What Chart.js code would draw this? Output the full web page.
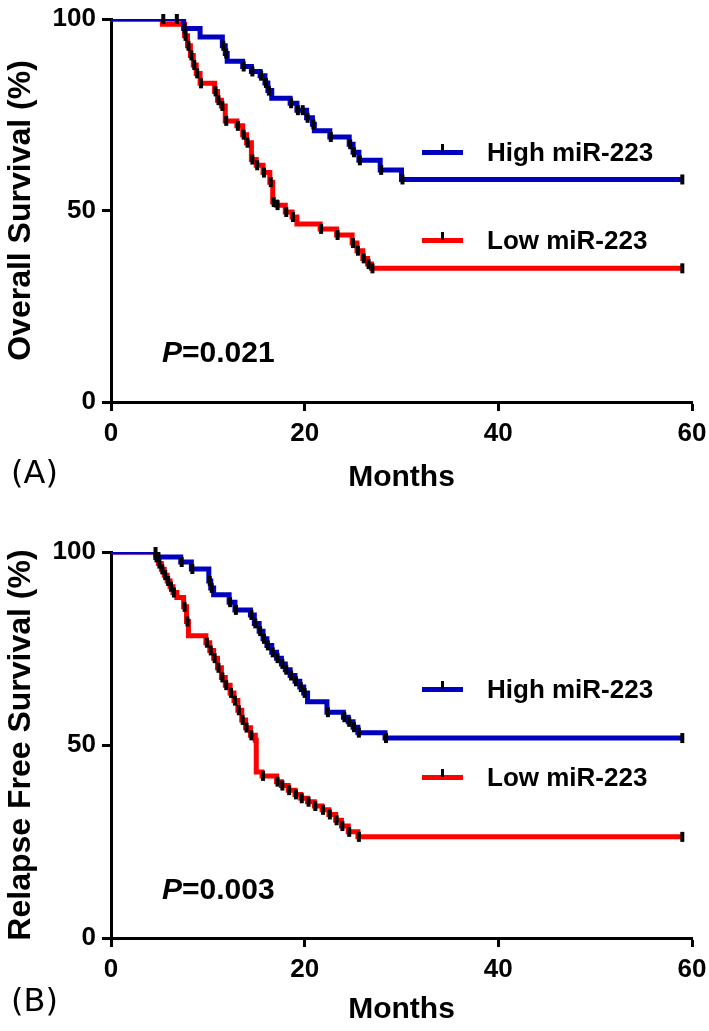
<!DOCTYPE html>
<html>
<head>
<meta charset="utf-8">
<script src="https://cdn.jsdelivr.net/npm/chart.js@4"></script>
<style>
  html, body { margin:0; padding:0; background:#fff; }
  #wrap { position:relative; width:709px; height:1031px; overflow:hidden; background:#fff; }
  canvas { position:absolute; left:0; }
  .txt { position:absolute; font-family:'Liberation Sans', Arial, sans-serif; color:#000; white-space:nowrap; }
  .pv { font-size:30px; font-weight:bold; line-height:34px; }
  .panel { font-family:'DejaVu Sans', sans-serif; font-size:32px; line-height:36px; }
  .legtxt { font-size:26px; font-weight:bold; line-height:30px; }
  .legbar { position:absolute; width:41px; height:5px; }
  .legtick { position:absolute; width:3px; height:8px; background:#000; }
</style>
</head>
<body>
<div id="wrap">
  <canvas id="cA" width="709" height="515" style="top:0px;width:709px;height:515px"></canvas>
  <canvas id="cB" width="709" height="516" style="top:515px;width:709px;height:516px"></canvas>
</div>
<script>
// ---------- data ----------
const monthTicks = [0, 20, 40, 60];
const pctTicks = [0, 50, 100];
const seriesLabels = ['High miR-223', 'Low miR-223'];
const seriesColors = ['rgb(0,0,190)', 'rgb(255,0,0)'];

// (A) Overall survival
const osHighT = [0, 7.5, 9.2, 11.5, 11.8, 12.0, 13.6, 14.5, 15.4, 15.9, 16.2, 16.6, 18.5, 19.2, 20.2, 20.8, 21.0, 22.6, 24.6, 25.0, 25.6, 27.8, 30.0, 59];
const osHighS = [100, 97.5, 95.3, 93, 91, 89, 87.6, 86.3, 85.2, 83.3, 81.3, 79.3, 78, 76.2, 74.2, 72.5, 70.8, 69.2, 67.3, 65.2, 63.1, 60.6, 58.1, 58.1];
const osHighCens = [5.4, 6.8, 7.6, 11.6, 11.9, 13.7, 14.6, 15.5, 16.0, 16.3, 18.6, 19.3, 19.8, 20.3, 20.9, 22.7, 24.7, 25.1, 25.7, 27.9, 30.1, 59];

const osLowT = [0, 5.3, 7.6, 7.9, 8.2, 8.5, 8.8, 9.2, 10.7, 11.0, 11.4, 11.8, 13.0, 13.6, 14.0, 14.5, 15.0, 15.7, 16.4, 16.7, 17.1, 18.0, 18.7, 19.2, 21.6, 23.3, 24.9, 25.4, 26.0, 26.5, 26.9, 59];
const osLowS = [100, 98.6, 95.6, 93, 90.5, 88, 85.8, 83.2, 81.1, 78.8, 77.3, 73.4, 72.1, 69.8, 67.7, 63.3, 61.8, 59.9, 57.4, 52.2, 51.4, 49.6, 48.3, 46.5, 45.2, 43.6, 41.5, 39.5, 37.5, 36, 34.9, 34.9];
const osLowCens = [7.7, 8.0, 8.3, 8.6, 8.9, 9.3, 10.8, 11.1, 11.5, 11.9, 13.1, 13.7, 14.1, 14.6, 15.1, 15.8, 16.5, 16.8, 17.2, 18.1, 18.8, 21.7, 23.4, 25.0, 25.5, 26.1, 26.6, 27.0, 59];

// (B) Relapse free survival
const rfsHighT = [0, 4.7, 7.2, 8.3, 10.1, 10.3, 10.6, 12.2, 12.8, 14.4, 14.8, 15.3, 15.7, 16.1, 16.6, 17.1, 17.6, 18.0, 18.5, 19.0, 19.5, 19.9, 20.3, 22.3, 24.0, 24.5, 25.0, 25.5, 28.3, 59];
const rfsHighS = [100, 98.7, 97.4, 95.6, 92.5, 90.7, 88.9, 87, 85, 83.7, 81.5, 79.5, 77.5, 75.8, 74, 72.5, 71, 69.5, 68, 66.5, 65, 63.5, 61.2, 58.5, 57.2, 56, 54.6, 53.2, 51.8, 51.8];
const rfsHighCens = [4.6, 4.9, 7.3, 8.4, 10.2, 10.4, 12.3, 12.9, 14.5, 14.9, 15.4, 15.8, 16.2, 16.7, 17.2, 17.7, 18.1, 18.6, 19.1, 19.6, 20.0, 22.4, 24.1, 24.6, 25.1, 25.6, 28.4, 59];

const rfsLowT = [0, 4.6, 4.9, 5.2, 5.5, 5.8, 6.1, 6.4, 6.8, 7.5, 7.8, 8.0, 9.8, 10.2, 10.6, 11.0, 11.4, 11.8, 12.3, 12.7, 13.1, 13.5, 13.9, 14.4, 14.9, 15.0, 15.6, 17.1, 17.6, 18.3, 19.0, 19.6, 20.3, 21.0, 21.8, 22.5, 23.2, 23.8, 24.5, 25.5, 59];
const rfsLowS = [100, 98.6, 97, 95.5, 94, 92.5, 91, 89.5, 88.2, 85.8, 82, 78.3, 76.5, 74.5, 72.5, 70, 67.5, 65.5, 63.5, 61.5, 59, 56.5, 54.5, 52.5, 51.2, 43, 42, 40.5, 39.5, 38.3, 37.2, 36.2, 35.3, 34.2, 33.2, 32, 30.5, 29, 27.5, 26.2, 26.2];
const rfsLowCens = [4.7, 5.0, 5.3, 5.6, 5.9, 6.2, 6.5, 7.6, 7.9, 9.9, 10.3, 10.7, 11.1, 11.5, 11.9, 12.4, 12.8, 13.2, 13.6, 14.0, 14.5, 15.7, 17.2, 17.7, 18.4, 19.1, 19.7, 20.4, 21.1, 21.9, 22.6, 23.3, 23.9, 24.6, 25.6, 59];

const panelA = { label: '(A)', yTitle: 'Overall Survival (%)', pText: '0.021' };
const panelB = { label: '(B)', yTitle: 'Relapse Free Survival (%)', pText: '0.003' };

// ---------- helpers ----------
const FONT = "'Liberation Sans', Arial, sans-serif";
function pts(T, S) { return T.map((t, i) => ({ x: t, y: S[i] })); }
function survAt(T, S, t) { let s = S[0]; for (let i = 0; i < T.length; i++) { if (T[i] <= t) s = S[i]; } return s; }
function censPts(T, S, C) { return C.map(t => ({ x: t, y: survAt(T, S, t) })); }

function curveDs(T, S, color) {
  return { type: 'line', data: pts(T, S), stepped: 'before', borderColor: color, borderWidth: 5,
           pointRadius: 0, fill: false, clip: { left: 5, top: 0, right: 10, bottom: 10 } };
}
function censDs(T, S, C) {
  return { type: 'scatter', data: censPts(T, S, C), pointStyle: 'line', rotation: 90, pointRadius: 5,
           borderColor: '#000', backgroundColor: '#000', borderWidth: 4, clip: false, showLine: false };
}

function makeChart(id, canvasH, padTop, xAxisH, titleBottomPad, yTitle, high, low) {
  const ctx = document.getElementById(id).getContext('2d');
  return new Chart(ctx, {
    type: 'line',
    data: {
      datasets: [
        censDs(high.T, high.S, high.C),
        censDs(low.T, low.S, low.C),
        curveDs(high.T, high.S, seriesColors[0]),
        curveDs(low.T, low.S, seriesColors[1])
      ]
    },
    options: {
      responsive: false, animation: false, devicePixelRatio: 1,
      layout: { padding: { top: padTop, right: 17, left: 0, bottom: 0 } },
      plugins: { legend: { display: false }, tooltip: { enabled: false } },
      scales: {
        x: {
          type: 'linear', min: 0, max: 60,
          afterBuildTicks: s => { s.ticks = monthTicks.map(v => ({ value: v })); },
          grid: { display: true, drawOnChartArea: false, drawTicks: true, tickLength: 9, tickWidth: 3, tickColor: '#000' },
          border: { display: true, color: '#000', width: 3 },
          ticks: { color: '#000', font: { family: FONT, size: 26, weight: 'bold', lineHeight: 1 }, padding: 10, maxRotation: 0 },
          title: { display: true, text: 'Months', color: '#000', font: { family: FONT, size: 30, weight: 'bold', lineHeight: 1.2 }, padding: { top: 0, bottom: titleBottomPad } },
          afterFit: s => { s.height = xAxisH; s.paddingRight = 0; s.paddingLeft = 0; }
        },
        y: {
          type: 'linear', min: 0, max: 100,
          afterBuildTicks: s => { s.ticks = pctTicks.map(v => ({ value: v })); },
          grid: { display: true, drawOnChartArea: false, drawTicks: true, tickLength: 9, tickWidth: 3, tickColor: '#000' },
          border: { display: true, color: '#000', width: 3 },
          ticks: { color: '#000', font: { family: FONT, size: 26, weight: 'bold', lineHeight: 1 }, padding: 6 },
          title: { display: true, text: yTitle, color: '#000', font: { family: FONT, size: 32, weight: 'bold', lineHeight: 1.2 }, padding: { top: 2, bottom: 0 } },
          afterFit: s => { s.width = 111; }
        }
      }
    }
  });
}

makeChart('cA', 515, 15, 113, 19, panelA.yTitle,
  { T: osHighT, S: osHighS, C: osHighCens }, { T: osLowT, S: osLowS, C: osLowCens });
makeChart('cB', 516, 37, 93, 3, panelB.yTitle,
  { T: rfsHighT, S: rfsHighS, C: rfsHighCens }, { T: rfsLowT, S: rfsLowS, C: rfsLowCens });

// ---------- text overlays ----------
const wrap = document.getElementById('wrap');
function addText(cls, html, left, centerY, lh) {
  const d = document.createElement('div');
  d.className = 'txt ' + cls;
  d.innerHTML = html;
  d.style.left = left + 'px';
  d.style.top = (centerY - lh / 2) + 'px';
  wrap.appendChild(d);
}
function addLegend(yHigh, yLow) {
  [yHigh, yLow].forEach((y, i) => {
    const bar = document.createElement('div');
    bar.className = 'legbar';
    bar.style.left = '422px'; bar.style.top = (y - 2.5) + 'px';
    bar.style.background = seriesColors[i];
    wrap.appendChild(bar);
    const tk = document.createElement('div');
    tk.className = 'legtick';
    tk.style.left = '441px'; tk.style.top = (y - 8) + 'px';
    wrap.appendChild(tk);
    addText('legtxt', seriesLabels[i], 487, y, 30);
  });
}
addLegend(152, 240);
addLegend(689, 777);
addText('pv', '<i>P</i>=' + panelA.pText, 162, 352, 34);
addText('pv', '<i>P</i>=' + panelB.pText, 162, 889, 34);
addText('panel', panelA.label, 11, 472, 36);
addText('panel', panelB.label, 11, 1000, 36);
</script>
</body>
</html>
